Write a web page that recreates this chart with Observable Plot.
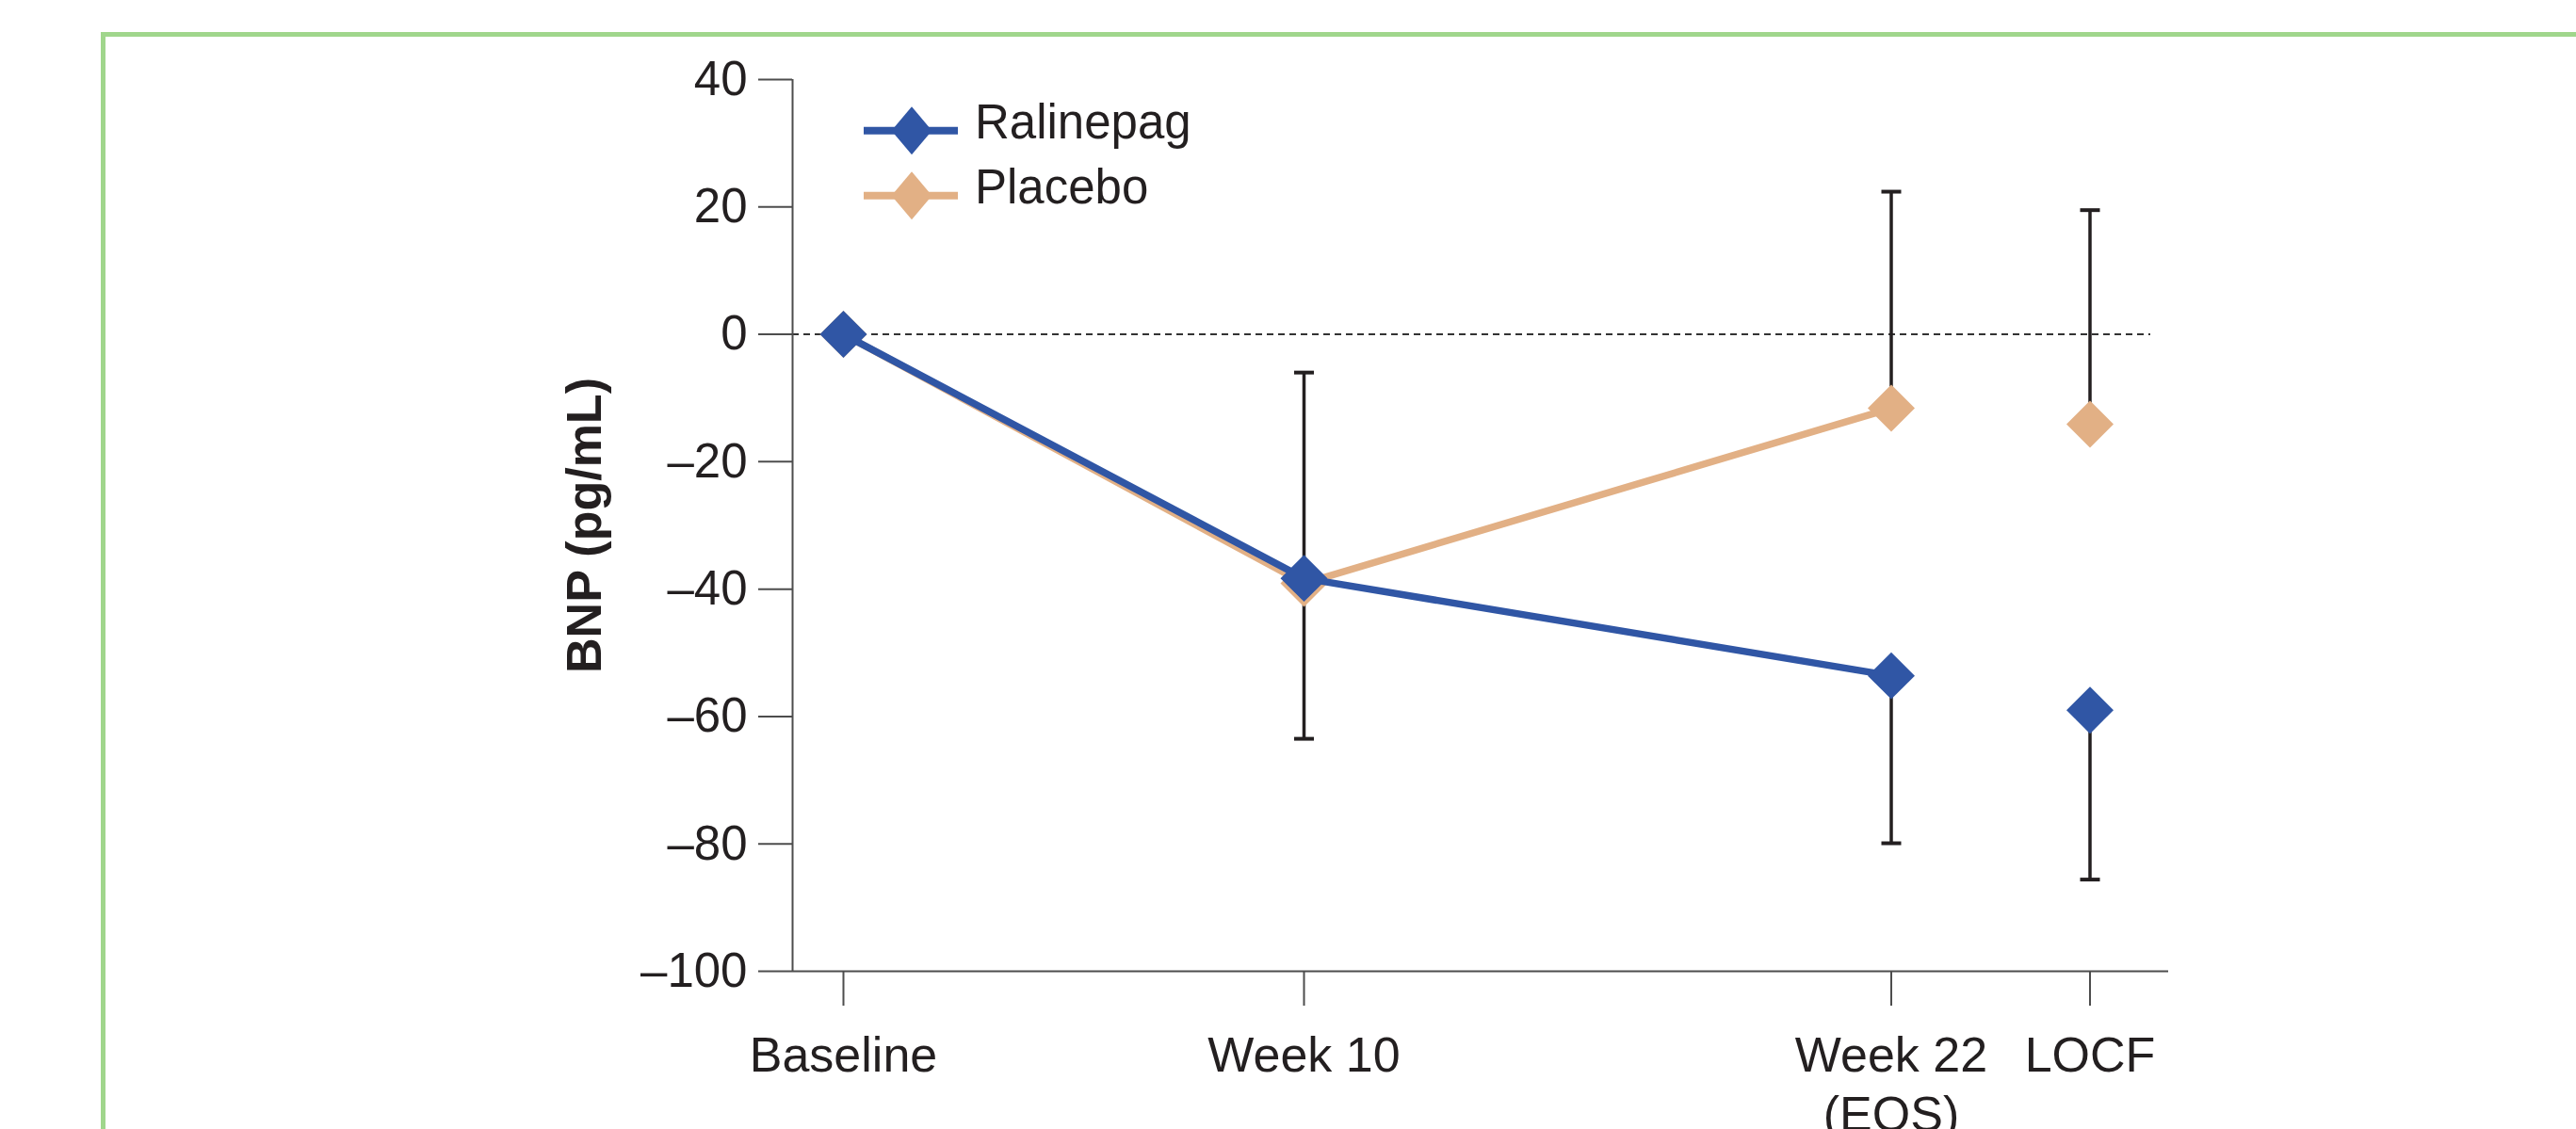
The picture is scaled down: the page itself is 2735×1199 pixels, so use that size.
<!DOCTYPE html>
<html>
<head>
<meta charset="utf-8">
<script src="https://cdn.jsdelivr.net/npm/d3@7"></script>
<script src="https://cdn.jsdelivr.net/npm/@observablehq/plot@0.6"></script>
<style>
  html, body { margin: 0; padding: 0; background: #fff; }
  #wrap { position: relative; width: 2735px; height: 1199px; overflow: hidden; background: #fff;
          font-family: "Liberation Sans", Arial, Helvetica, sans-serif; color: #231f20; }
  #border { position: absolute; left: 107px; top: 34px; width: 4000px; height: 4000px;
            border: 5px solid #a0d68c; box-sizing: border-box; }
  #chart { position: absolute; left: 0; top: 0; }
  #legend { position: absolute; left: 900px; top: 100px; }
</style>
</head>
<body>
<div id="wrap">
  <div id="border"></div>
  <div id="chart"></div>
  <svg id="legend" width="400" height="150"></svg>
</div>
<script>
// ---- data ----
const visits = ["Baseline", "Week 10", "Week 22\n(EOS)", "LOCF"];
const joinedToLine = [true, true, true, false];
const ralinepagMean = [0, -38.3, -53.6, -59.0];
const ralinepagLower = [null, -63.5, -79.9, -85.6];
const placeboMean = [0, -39.1, -11.6, -14.1];
const placeboUpper = [null, -6.0, 22.4, 19.5];
const seriesNames = ["Ralinepag", "Placebo"];
const seriesColors = ["#3056a5", "#e2b085"];
const yTicks = [40, 20, 0, -20, -40, -60, -80, -100];
const yLabel = "BNP (pg/mL)";

// ---- build table ----
const means = [ralinepagMean, placeboMean];
const bounds = [ralinepagLower, placeboUpper];
const rows = [];
seriesNames.forEach((s, si) => visits.forEach((v, i) => rows.push({
  series: s, color: seriesColors[si], slot: i, mean: means[si][i], bound: bounds[si][i], joined: joinedToLine[i]
})));
const errRows = rows.filter(d => d.bound != null);

const xDomain = [-0.11, 0, 1, 2, 3, 3.396];
const xRange = [841, 895, 1384, 2007.5, 2218.5, 2302];
const yDomain = [-100, 40];

const capSymbol = {
  draw(context, size) {
    const r = Math.sqrt(size / Math.PI);
    context.moveTo(-r, 0);
    context.lineTo(r, 0);
  }
};

const fmtY = d => d < 0 ? "\u2013" + Math.abs(d) : String(d);

const seriesMarks = [];
// placebo drawn first, ralinepag on top
[1, 0].forEach(si => {
  const s = seriesNames[si];
  const data = rows.filter(d => d.series === s);
  seriesMarks.push(Plot.line(data.filter(d => d.joined), {x: "slot", y: "mean", stroke: seriesColors[si], strokeWidth: 7.5}));
  seriesMarks.push(Plot.dot(data, {x: "slot", y: "mean", symbol: "diamond2", r: 22.5, fill: seriesColors[si], stroke: "none"}));
});

const chart = Plot.plot({
  width: 2735,
  height: 1199,
  marginLeft: 841,
  marginRight: 433,
  marginTop: 84,
  marginBottom: 168,
  style: {fontFamily: "'Liberation Sans', Arial, Helvetica, sans-serif", fontSize: "51px", color: "#231f20", background: "transparent"},
  x: {type: "linear", domain: xDomain, range: xRange, label: null},
  y: {domain: yDomain, label: null},
  marks: [
    Plot.ruleY([0], {stroke: "#333", strokeWidth: 2, strokeDasharray: "7,5", insetRight: 19}),
    Plot.ruleX(errRows, {x: "slot", y1: "mean", y2: "bound", stroke: "#231f20", strokeWidth: 3.5}),
    Plot.dot(errRows, {x: "slot", y: "bound", symbol: capSymbol, r: 10.5, stroke: "#231f20", strokeWidth: 4, fill: "none"}),
    ...seriesMarks,
    Plot.axisY({ticks: yTicks, tickSize: 36, tickPadding: 12, tickFormat: fmtY, label: null, stroke: "#4d4d4d", strokeWidth: 2, fontSize: 51}),
    Plot.axisX({ticks: visits.map((_, i) => i), tickSize: 37, tickPadding: 24, tickFormat: i => visits[i], label: null, stroke: "#4d4d4d", strokeWidth: 2, fontSize: 52, lineHeight: 1.22}),
    Plot.ruleX([xDomain[0]], {stroke: "#4d4d4d", strokeWidth: 2}),
    Plot.ruleY([yDomain[0]], {stroke: "#4d4d4d", strokeWidth: 2}),
    Plot.text([yLabel], {text: d => d, frameAnchor: "left", textAnchor: "middle", lineAnchor: "middle", dx: -220, rotate: -90, fontSize: 52, fontWeight: "bold", fill: "#231f20"})
  ]
});
document.getElementById("chart").appendChild(chart);

// ---- legend ----
const leg = d3.select("#legend");
seriesNames.forEach((s, i) => {
  const cy = 38.7 + i * 69;
  const g = leg.append("g");
  g.append("line").attr("x1", 17).attr("x2", 117).attr("y1", cy).attr("y2", cy)
    .attr("stroke", seriesColors[i]).attr("stroke-width", 8);
  g.append("path").attr("d", `M68,${cy - 25.5}L89.5,${cy}L68,${cy + 25.5}L46.5,${cy}Z`).attr("fill", seriesColors[i]);
  g.append("text").attr("x", 135).attr("y", cy + 8.5).attr("font-size", 51)
    .attr("font-family", "'Liberation Sans', Arial, Helvetica, sans-serif").attr("fill", "#231f20").text(s);
});
</script>
</body>
</html>
